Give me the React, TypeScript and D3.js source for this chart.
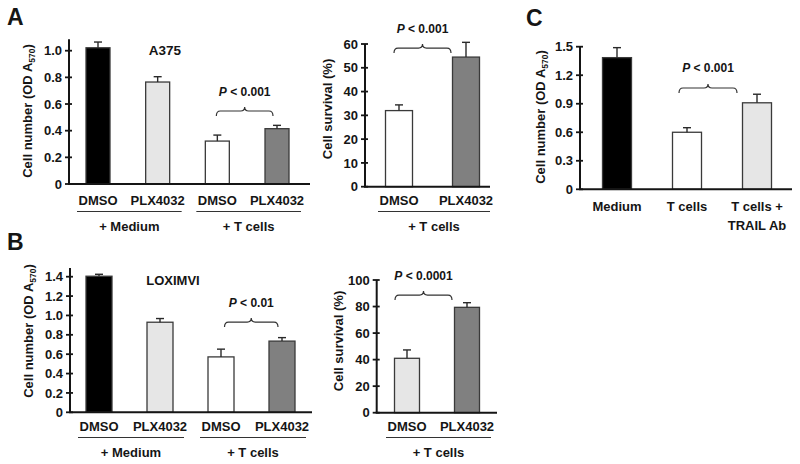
import React from "react";
import * as d3 from "d3";

// ---------- DATA ----------
const A375_LABELS = ["DMSO", "PLX4032", "DMSO", "PLX4032"];
const A375_VALUES = [1.022, 0.765, 0.322, 0.415];
const A375_ERRORS = [0.043, 0.04, 0.045, 0.025];
const A375_FILLS = ["#000000", "#e6e6e6", "#ffffff", "#808080"];
const A375_GROUPS = ["+ Medium", "+ T cells"];
const A375_TICKS = [0, 0.2, 0.4, 0.6, 0.8, 1.0];

const A375S_LABELS = ["DMSO", "PLX4032"];
const A375S_VALUES = [32, 54.5];
const A375S_ERRORS = [2.4, 6.2];
const A375S_FILLS = ["#ffffff", "#808080"];
const A375S_GROUPS = ["+ T cells"];
const A375S_TICKS = [0, 10, 20, 30, 40, 50, 60];

const C_LABELS = [["Medium"], ["T cells"], ["T cells +", "TRAIL Ab"]];
const C_VALUES = [1.385, 0.6, 0.91];
const C_ERRORS = [0.105, 0.048, 0.09];
const C_FILLS = ["#000000", "#ffffff", "#e6e6e6"];
const C_TICKS = [0, 0.3, 0.6, 0.9, 1.2, 1.5];

const LOX_LABELS = ["DMSO", "PLX4032", "DMSO", "PLX4032"];
const LOX_VALUES = [1.405, 0.93, 0.572, 0.735];
const LOX_ERRORS = [0.02, 0.038, 0.08, 0.036];
const LOX_FILLS = ["#000000", "#e6e6e6", "#ffffff", "#808080"];
const LOX_GROUPS = ["+ Medium", "+ T cells"];
const LOX_TICKS = [0, 0.2, 0.4, 0.6, 0.8, 1.0, 1.2, 1.4];

const LOXS_LABELS = ["DMSO", "PLX4032"];
const LOXS_VALUES = [41, 79.4];
const LOXS_ERRORS = [6.3, 3.5];
const LOXS_FILLS = ["#e6e6e6", "#808080"];
const LOXS_GROUPS = ["+ T cells"];
const LOXS_TICKS = [0, 20, 40, 60, 80, 100];

// ---------- STYLE ----------
const FONT = "'Liberation Sans', Arial, Helvetica, sans-serif";
const INK = "#151515";

type Group = { label: string; from: number; to: number };
type Panel = {
  labels: string[][];
  values: number[];
  errors: number[];
  fills: string[];
  ticks: number[];
  axisTop: number;
  x0: number;
  xEnd: number;
  y0: number;
  yRef: [number, number];
  c0: number;
  c1: number;
  barW: number;
  catY: number;
  groups?: Group[];
  groupLineY?: number;
  groupY?: number;
  yLabel: string;
  yLabelSub?: string;
  yLabelX: number;
  yLabelY: number;
  brace: { a: number; b: number; dl: number; dr: number; v: number; text: string };
  title?: { text: string; x: number; y: number; size: number };
  fmt: (v: number) => string;
};

const fmt1 = (v: number) => (v === 0 ? "0" : d3.format(".1f")(v));
const fmt0 = (v: number) => d3.format("d")(v);

function bracePath(x1: number, x2: number, yEnd: number) {
  const cx = (x1 + x2) / 2;
  const yArm = yEnd - 5;
  const yTip = yEnd - 9;
  const r = 4;
  return `M${x1},${yEnd} Q${x1},${yArm} ${x1 + r},${yArm} L${cx - r},${yArm} Q${cx},${yArm} ${cx},${yTip} Q${cx},${yArm} ${cx + r},${yArm} L${x2 - r},${yArm} Q${x2},${yArm} ${x2},${yEnd}`;
}

function BarPanel({ p }: { p: Panel }) {
  const y = d3.scaleLinear().domain([0, p.yRef[0]]).range([p.y0, p.yRef[1]]);
  const keys = p.values.map((_, i) => String(i));
  const x = d3.scalePoint<string>().domain(keys).range([p.c0, p.c1]);
  const bx1 = (x(String(p.brace.a)) as number) + p.brace.dl;
  const bx2 = (x(String(p.brace.b)) as number) + p.brace.dr;
  const byEnd = y(p.brace.v);
  return (
    <g>
      {p.values.map((v, i) => {
        const cx = x(String(i)) as number;
        return (
          <rect
            key={"b" + i}
            x={cx - p.barW / 2}
            y={y(v)}
            width={p.barW}
            height={p.y0 - y(v)}
            fill={p.fills[i]}
            stroke="#3a3a3a"
            strokeWidth={1.3}
          />
        );
      })}
      {p.values.map((v, i) => {
        const cx = x(String(i)) as number;
        const top = y(v + p.errors[i]);
        return (
          <g key={"e" + i} stroke="#2a2a2a" strokeWidth={1.4}>
            <line x1={cx} x2={cx} y1={y(v)} y2={top} />
            <line x1={cx - 4} x2={cx + 4} y1={top} y2={top} />
          </g>
        );
      })}
      {/* y axis */}
      <line x1={p.x0} x2={p.x0} y1={p.y0} y2={y(p.axisTop)} stroke={INK} strokeWidth={2} />
      {p.ticks.map((t) => (
        <g key={"t" + t}>
          <line x1={p.x0 - 4} x2={p.x0 + 3} y1={y(t)} y2={y(t)} stroke={INK} strokeWidth={1.8} />
          <text
            x={p.x0 - 7}
            y={y(t) + 4.6}
            textAnchor="end"
            fontSize={13}
            fontWeight="bold"
            fontFamily={FONT}
            fill={INK}
          >
            {p.fmt(t)}
          </text>
        </g>
      ))}
      {/* baseline */}
      <line x1={p.x0 - 1} x2={p.xEnd} y1={p.y0} y2={p.y0} stroke={INK} strokeWidth={2} />
      {/* category labels */}
      {p.labels.map((lines, i) => (
        <text
          key={"c" + i}
          x={x(String(i)) as number}
          y={p.catY}
          textAnchor="middle"
          fontSize={13}
          fontWeight="bold"
          fontFamily={FONT}
          fill={INK}
        >
          {lines.map((ln, j) => (
            <tspan key={j} x={x(String(i)) as number} dy={j === 0 ? 0 : 19}>
              {ln}
            </tspan>
          ))}
        </text>
      ))}
      {p.groups &&
        p.groups.map((g, i) => {
          const a = x(String(g.from)) as number;
          const b = x(String(g.to)) as number;
          const l = a - 21;
          const r = b + 24;
          return (
            <g key={"g" + i}>
              <line x1={l} x2={r} y1={p.groupLineY} y2={p.groupLineY} stroke="#333" strokeWidth={1} />
              <text
                x={(l + r) / 2}
                y={p.groupY}
                textAnchor="middle"
                fontSize={13}
                fontWeight="bold"
                fontFamily={FONT}
                fill={INK}
              >
                {g.label}
              </text>
            </g>
          );
        })}
      {/* y label */}
      <text
        transform={`translate(${p.yLabelX},${p.yLabelY}) rotate(-90)`}
        textAnchor="middle"
        fontSize={13}
        fontWeight="bold"
        fontFamily={FONT}
        fill={INK}
      >
        {p.yLabel}
        {p.yLabelSub && (
          <>
            <tspan fontSize={8.5} dy={3}>
              {p.yLabelSub}
            </tspan>
            <tspan dy={-3}>)</tspan>
          </>
        )}
      </text>
      {/* brace + p */}
      <path d={bracePath(bx1, bx2, byEnd)} fill="none" stroke="#333" strokeWidth={1.2} />
      <text
        x={(bx1 + bx2) / 2}
        y={byEnd - 9 - 11.5}
        textAnchor="middle"
        fontSize={12}
        fontWeight="bold"
        fontFamily={FONT}
        fill={INK}
      >
        <tspan fontStyle="italic">P</tspan>
        {p.brace.text}
      </text>
      {p.title && (
        <text
          x={p.title.x}
          y={p.title.y}
          textAnchor="middle"
          fontSize={p.title.size}
          fontWeight="bold"
          fontFamily={FONT}
          fill={INK}
        >
          {p.title.text}
        </text>
      )}
    </g>
  );
}

const panels: Panel[] = [
  {
    labels: A375_LABELS.map((s) => [s]),
    values: A375_VALUES,
    errors: A375_ERRORS,
    fills: A375_FILLS,
    ticks: A375_TICKS,
    axisTop: 1.085,
    x0: 69,
    xEnd: 310,
    y0: 184,
    yRef: [1.0, 50.7],
    c0: 98,
    c1: 277,
    barW: 24,
    catY: 205.3,
    groups: [
      { label: A375_GROUPS[0], from: 0, to: 1 },
      { label: A375_GROUPS[1], from: 2, to: 3 },
    ],
    groupLineY: 211.5,
    groupY: 231,
    yLabel: "Cell number (OD A",
    yLabelSub: "570",
    yLabelX: 31.5,
    yLabelY: 111,
    brace: { a: 2, b: 3, dl: -1, dr: -4, v: 0.51, text: " < 0.001" },
    title: { text: "A375", x: 165, y: 55, size: 13.5 },
    fmt: fmt1,
  },
  {
    labels: A375S_LABELS.map((s) => [s]),
    values: A375S_VALUES,
    errors: A375S_ERRORS,
    fills: A375S_FILLS,
    ticks: A375S_TICKS,
    axisTop: 60,
    x0: 365,
    xEnd: 490,
    y0: 186.7,
    yRef: [60, 44],
    c0: 399,
    c1: 466,
    barW: 27,
    catY: 205.3,
    groups: [{ label: A375S_GROUPS[0], from: 0, to: 1 }],
    groupLineY: 211.5,
    groupY: 231,
    yLabel: "Cell survival (%)",
    yLabelX: 332,
    yLabelY: 109,
    brace: { a: 0, b: 1, dl: -5, dr: -15, v: 56.2, text: " < 0.001" },
    fmt: fmt0,
  },
  {
    labels: C_LABELS,
    values: C_VALUES,
    errors: C_ERRORS,
    fills: C_FILLS,
    ticks: C_TICKS,
    axisTop: 1.5,
    x0: 580,
    xEnd: 792,
    y0: 189.3,
    yRef: [1.5, 46.7],
    c0: 617,
    c1: 757,
    barW: 29,
    catY: 211.3,
    yLabel: "Cell number (OD A",
    yLabelSub: "570",
    yLabelX: 545,
    yLabelY: 117,
    brace: { a: 1, b: 2, dl: -8, dr: -20, v: 1.013, text: " < 0.001" },
    fmt: fmt1,
  },
  {
    labels: LOX_LABELS.map((s) => [s]),
    values: LOX_VALUES,
    errors: LOX_ERRORS,
    fills: LOX_FILLS,
    ticks: LOX_TICKS,
    axisTop: 1.49,
    x0: 70,
    xEnd: 312,
    y0: 412.3,
    yRef: [1.4, 276.7],
    c0: 99,
    c1: 282,
    barW: 26,
    catY: 431.3,
    groups: [
      { label: LOX_GROUPS[0], from: 0, to: 1 },
      { label: LOX_GROUPS[1], from: 2, to: 3 },
    ],
    groupLineY: 437.5,
    groupY: 456.6,
    yLabel: "Cell number (OD A",
    yLabelSub: "570",
    yLabelX: 32.5,
    yLabelY: 331,
    brace: { a: 2, b: 3, dl: 3.5, dr: -4, v: 0.88, text: " < 0.01" },
    title: { text: "LOXIMVI", x: 173, y: 285, size: 13 },
    fmt: fmt1,
  },
  {
    labels: LOXS_LABELS.map((s) => [s]),
    values: LOXS_VALUES,
    errors: LOXS_ERRORS,
    fills: LOXS_FILLS,
    ticks: LOXS_TICKS,
    axisTop: 100,
    x0: 376.7,
    xEnd: 497,
    y0: 412.7,
    yRef: [100, 280],
    c0: 407,
    c1: 467,
    barW: 25,
    catY: 431.3,
    groups: [{ label: LOXS_GROUPS[0], from: 0, to: 1 }],
    groupLineY: 437.5,
    groupY: 456.6,
    yLabel: "Cell survival (%)",
    yLabelX: 343,
    yLabelY: 341,
    brace: { a: 0, b: 1, dl: -12, dr: -15, v: 84.9, text: " < 0.0001" },
    fmt: fmt0,
  },
];

const LETTERS = [
  { t: "A", x: 7, y: 24.5 },
  { t: "B", x: 7, y: 250 },
  { t: "C", x: 526, y: 25.5 },
];

export default function App() {
  return (
    <svg
      width={800}
      height={464}
      viewBox="0 0 800 464"
      style={{ position: "absolute", left: 0, top: 0, display: "block", background: "#fff" }}
    >
      <rect width={800} height={464} fill="#fff" />
      {panels.map((p, i) => (
        <BarPanel key={i} p={p} />
      ))}
      {LETTERS.map((l) => (
        <text key={l.t} x={l.x} y={l.y} fontSize={23} fontWeight="bold" fontFamily={FONT} fill={INK}>
          {l.t}
        </text>
      ))}
    </svg>
  );
}
